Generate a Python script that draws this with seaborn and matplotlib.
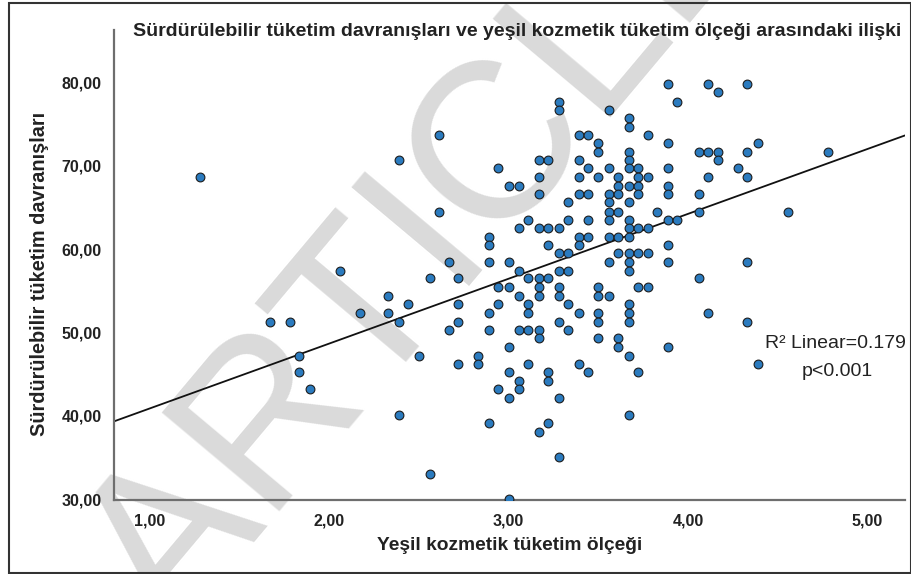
import numpy as np
import pandas as pd
import matplotlib.pyplot as plt
import seaborn as sns
from matplotlib.patches import Rectangle

# Sürdürülebilir tüketim davranışları score levels (y) and the
# Yeşil kozmetik tüketim ölçeği values (x) of the points on each level
y_levels = [79.8, 78.8, 77.7, 76.7, 75.7, 74.7, 73.7, 72.7, 71.7, 70.7,
            69.7, 68.7, 67.6, 66.6, 65.6, 64.5, 63.5, 62.5, 61.5, 60.5,
            59.5, 58.5, 57.4, 56.5, 55.4, 54.4, 53.4, 52.3, 51.3, 50.3,
            49.3, 48.2, 47.2, 46.2, 45.2, 44.2, 43.2, 42.1, 40.1, 39.1,
            38.0, 35.0, 33.0, 30.0]
x_at_level = [
    [3.89, 4.11, 4.33],
    [4.17],
    [3.94, 3.28],
    [3.28, 3.56],
    [3.67],
    [3.67],
    [2.61, 3.78, 3.39, 3.44],
    [3.50, 3.89, 4.39],
    [3.50, 4.06, 3.67, 4.11, 4.17, 4.33, 4.78],
    [2.39, 3.17, 3.22, 3.67, 3.39, 4.17],
    [2.94, 3.44, 3.56, 3.67, 3.72, 3.89, 4.28],
    [1.28, 3.17, 3.39, 3.50, 3.61, 3.72, 3.78, 4.11, 4.33],
    [3.00, 3.06, 3.61, 3.67, 3.72, 3.89],
    [3.17, 3.39, 3.44, 3.56, 3.61, 3.72, 3.89, 4.06],
    [3.56, 3.67, 3.33],
    [2.61, 3.56, 3.61, 3.83, 4.06, 4.56],
    [3.11, 3.33, 3.44, 3.56, 3.67, 3.89, 3.94],
    [3.06, 3.17, 3.22, 3.28, 3.67, 3.72, 3.78],
    [2.89, 3.39, 3.44, 3.56, 3.61, 3.67],
    [2.89, 3.22, 3.39, 3.89],
    [3.28, 3.33, 3.61, 3.67, 3.72, 3.78],
    [2.67, 2.89, 3.00, 3.56, 3.67, 3.89, 4.33],
    [2.06, 3.06, 3.28, 3.33, 3.67],
    [2.56, 2.72, 3.11, 3.17, 3.22, 4.06],
    [2.94, 3.00, 3.17, 3.28, 3.50, 3.72, 3.78],
    [2.33, 3.06, 3.17, 3.28, 3.50, 3.56],
    [2.44, 2.72, 2.94, 3.11, 3.33, 3.67],
    [2.17, 2.33, 2.89, 3.11, 3.39, 3.50, 3.67, 4.11],
    [1.67, 1.78, 2.39, 2.72, 3.28, 3.50, 3.67, 4.33],
    [2.67, 2.89, 3.06, 3.11, 3.17, 3.33],
    [3.17, 3.50, 3.61],
    [3.00, 3.61, 3.89],
    [1.83, 2.50, 2.83, 3.67],
    [2.72, 2.83, 3.11, 3.39, 4.39],
    [1.83, 3.22, 3.00, 3.44, 3.72],
    [3.22, 3.06],
    [1.89, 3.06, 2.94],
    [3.00, 3.28],
    [2.39, 3.67],
    [2.89, 3.22],
    [3.17],
    [3.28],
    [2.56],
    [3.00],
]

x_ticks = [1, 2, 3, 4, 5]
x_tick_labels = ['1,00', '2,00', '3,00', '4,00', '5,00']
y_ticks = [30, 40, 50, 60, 70, 80]
y_tick_labels = ['30,00', '40,00', '50,00', '60,00', '70,00', '80,00']

rows = [(x, y) for y, xs in zip(y_levels, x_at_level) for x in xs]
df = pd.DataFrame(rows, columns=['yesil', 'surdurulebilir'])

sns.set_style('white')
plt.rcParams['font.family'] = ['Liberation Sans', 'DejaVu Sans']

fig = plt.figure(figsize=(9.12, 5.74), dpi=100)

# watermark behind the chart
fig.text(0.19, -0.113, 'ARTICLE IN PRESS', rotation=50, rotation_mode='anchor',
         ha='left', va='baseline', fontsize=160, color='#dadada', zorder=-5)

ax = fig.add_axes([0.125, 0.129, 0.8673, 0.819])
ax.patch.set_alpha(0)
ax.set_xlim(0.8, 5.21)
ax.set_ylim(29.9, 86.3)

sns.regplot(data=df, x='yesil', y='surdurulebilir', ax=ax, ci=None, truncate=False,
            scatter_kws=dict(s=40, color='#2b7bbf', edgecolor='#1c1c1c',
                             linewidths=0.8, alpha=1, zorder=3),
            line_kws=dict(color='#111111', lw=1.3, zorder=2))
ax.set_xlim(0.8, 5.21)
ax.set_ylim(29.9, 86.3)

for side in ['top', 'right']:
    ax.spines[side].set_visible(False)
for side in ['left', 'bottom']:
    ax.spines[side].set_color('#6e6e6e')
    ax.spines[side].set_linewidth(1.6)

ax.set_xticks(x_ticks)
ax.set_xticklabels(x_tick_labels, fontsize=11.5, fontweight='bold', color='#222222')
ax.set_yticks(y_ticks)
ax.set_yticklabels(y_tick_labels, fontsize=11.5, fontweight='bold', color='#222222')
ax.tick_params(axis='both', length=0)
ax.tick_params(axis='x', pad=10)
ax.tick_params(axis='y', pad=9)

ax.set_xlabel('Yeşil kozmetik tüketim ölçeği', fontsize=13.8, fontweight='bold',
              color='#222222', labelpad=6)
ax.set_ylabel('Sürdürülebilir tüketim davranışları', fontsize=14.3, fontweight='bold',
              color='#222222')
ax.yaxis.set_label_coords(-0.082, 0.481)

fig.text(133 / 912, 1 - 32 / 574,
         'Sürdürülebilir tüketim davranışları ve yeşil kozmetik tüketim ölçeği arasındaki ilişki',
         fontsize=14, fontweight='bold', color='#222222', ha='left', va='center')

fig.text(835 / 912, 1 - 344 / 574, 'R² Linear=0.179', fontsize=14,
         color='#222222', ha='center', va='center')
fig.text(837 / 912, 1 - 372 / 574, 'p<0.001', fontsize=14,
         color='#222222', ha='center', va='center')

fig.patches.append(Rectangle((9 / 912, 1.5 / 574), 902 / 912, 570 / 574,
                             transform=fig.transFigure, fill=False,
                             edgecolor='#333333', linewidth=1.5, zorder=10))

fig.savefig('out.png', dpi=100)
